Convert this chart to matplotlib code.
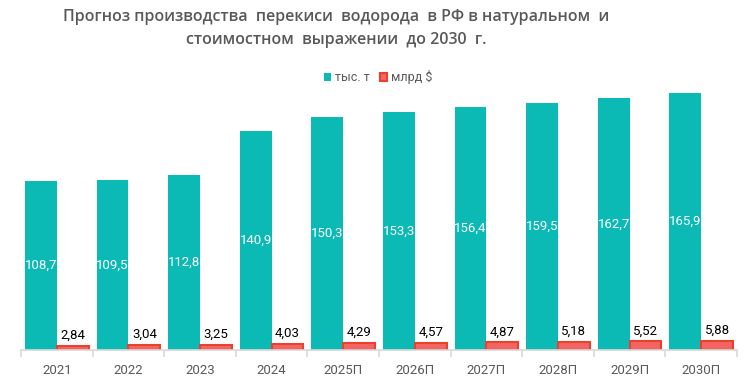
import numpy as np
import matplotlib.pyplot as plt
from matplotlib.patches import Patch

# data
years = ['2021', '2022', '2023', '2024', '2025П', '2026П', '2027П', '2028П', '2029П', '2030П']
volume_kt = [108.7, 109.5, 112.8, 140.9, 150.3, 153.3, 156.4, 159.5, 162.7, 165.9]
value_bn = [2.84, 3.04, 3.25, 4.03, 4.29, 4.57, 4.87, 5.18, 5.52, 5.88]

TEAL = '#0BBAB5'
RED_FILL = '#F26563'
RED_EDGE = '#E8412E'
GREY = '#595959'

plt.rcParams['font.family'] = ['Roboto', 'DejaVu Sans']
title_font = ['Open Sans', 'DejaVu Sans']

W, H = 753, 387
fig = plt.figure(figsize=(W / 100, H / 100), dpi=100)
# axes box in pixels: x 21..737, baseline at y=350, top at y=80
ax = fig.add_axes([21 / W, (H - 350) / H, (737 - 21) / W, (350 - 80) / H])

x = np.arange(len(years))
bw = 0.445
ax.bar(x - bw / 2, volume_kt, bw, color=TEAL, zorder=2)
ax.bar(x + bw / 2, value_bn, bw, color=RED_FILL, edgecolor=RED_EDGE, linewidth=1.5, zorder=2)

ax.set_xlim(-0.5, len(years) - 0.5)
ax.set_ylim(0, 174)

def fmt(v, nd):
    return f'{v:.{nd}f}'.replace('.', ',')

for xi, v in zip(x, volume_kt):
    ax.text(xi - bw / 2, v / 2, fmt(v, 1), ha='center', va='center',
            color='white', fontsize=9.5)
for xi, v in zip(x, value_bn):
    ax.annotate(fmt(v, 2), (xi + bw / 2, v), xytext=(0, 3), textcoords='offset points',
                ha='center', va='bottom', color='black', fontsize=9.5)

# category axis: boundary ticks, labels centred
for s in ['top', 'right', 'left']:
    ax.spines[s].set_visible(False)
ax.spines['bottom'].set_color('#D9D9D9')
ax.spines['bottom'].set_linewidth(1.2)
ax.set_yticks([])
ax.set_xticks(np.arange(-0.5, len(years), 1.0))
ax.set_xticklabels([])
ax.set_xticks(x, minor=True)
ax.set_xticklabels(years, minor=True)
ax.tick_params(axis='x', which='major', length=5, width=1.2, color='#D9D9D9')
ax.tick_params(axis='x', which='minor', length=0, pad=10, labelsize=9.5, labelcolor=GREY)

fig.text(336 / W, 1 - 17 / H, 'Прогноз производства  перекиси  водорода  в РФ в натуральном  и',
         ha='center', va='center', fontsize=11.5, fontweight='semibold', color=GREY,
         family=title_font)
fig.text(336 / W, 1 - 40 / H, 'стоимостном  выражении  до 2030  г.',
         ha='center', va='center', fontsize=11.5, fontweight='semibold', color=GREY,
         family=title_font)

handles = [Patch(facecolor=TEAL, label='тыс. т'),
           Patch(facecolor=RED_FILL, edgecolor=RED_EDGE, linewidth=1.5, label='млрд $')]
fig.legend(handles=handles, loc='center', bbox_to_anchor=(378 / W, 1 - 77 / H), ncol=2,
           frameon=False, fontsize=9, handlelength=0.6, handleheight=0.6,
           handletextpad=0.3, columnspacing=0.8, labelcolor=GREY)

fig.savefig('out.png', dpi=100)
